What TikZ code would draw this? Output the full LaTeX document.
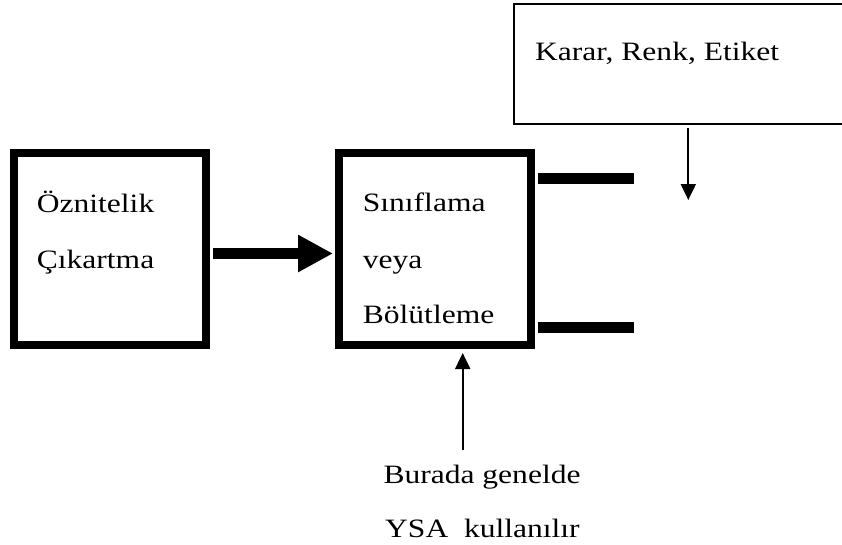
\documentclass[tikz,border=0pt]{standalone}
\usepackage{fontspec}
\setmainfont{Liberation Serif}
\usetikzlibrary{arrows.meta}
\tikzset{
  heavybox/.style={draw, line width=8pt, inner sep=0pt, minimum width=192pt, minimum height=192pt},
  lightbox/.style={draw, line width=2pt, inner sep=0pt},
  label/.style={anchor=base west, inner sep=0pt, font=\fontsize{26.5}{30}\selectfont},
  bigarrow/.style={line width=11pt, -{Triangle[length=35pt,width=35pt]}},
  stub/.style={line width=11pt},
  thinarrow/.style={line width=2pt, -{Triangle[length=16pt,width=15pt]}}
}
\newcommand{\wide}[1]{\scalebox{1.19}[1]{#1}}
\begin{document}
\begin{tikzpicture}[x=1pt, y=-1pt]
  \useasboundingbox (0,0) rectangle (842,544);
  \clip (0,0) rectangle (842,544);

  % main processing blocks
  \node[heavybox] (b1) at (110.25,249) {};
  \node[heavybox] (b2) at (435,249) {};
  \node[lightbox, minimum width=386.5pt, minimum height=120.5pt] (b3) at (706.75,63.75) {};

  % block texts
  \node[label] (t1) at (36.7,212.7) {\wide{Öznitelik}};
  \node[label] (t2) at (36.7,268.3) {\wide{Çıkartma}};
  \node[label] (t3) at (362.7,211.7) {\wide{Sınıflama}};
  \node[label] (t4) at (362.7,268) {\wide{veya}};
  \node[label] (t5) at (362.7,323.3) {\wide{Bölütleme}};
  \node[label] (t6) at (535,60) {\wide{Karar, Renk, Etiket}};
  \node[label] (t7) at (383.3,483.3) {\wide{Burada genelde}};
  \node[label] (t8) at (385,537.3) {\wide{YSA~ kullanılır}};

  % feature extraction feeds the classifier
  \draw[bigarrow, shorten <=3pt, shorten >=2pt]
    ([yshift=-4.5pt]b1.east) -- ([yshift=-4.5pt]b2.west);

  % output stubs of the classifier
  \coordinate (o1) at (634,178);
  \coordinate (o2) at (634,327);
  \draw[stub, shorten <=3pt] (b2.east |- o1) -- (o1);
  \draw[stub, shorten <=3pt] (b2.east |- o2) -- (o2);

  % decision arrow
  \coordinate (d1) at (688.3,200);
  \draw[thinarrow, shorten <=2.5pt] (b3.south -| d1) -- (d1);

  % note arrow towards the classifier
  \coordinate (u1) at (462.7,450);
  \draw[thinarrow, shorten >=4pt] (u1) -- (b2.south -| u1);
\end{tikzpicture}
\end{document}
